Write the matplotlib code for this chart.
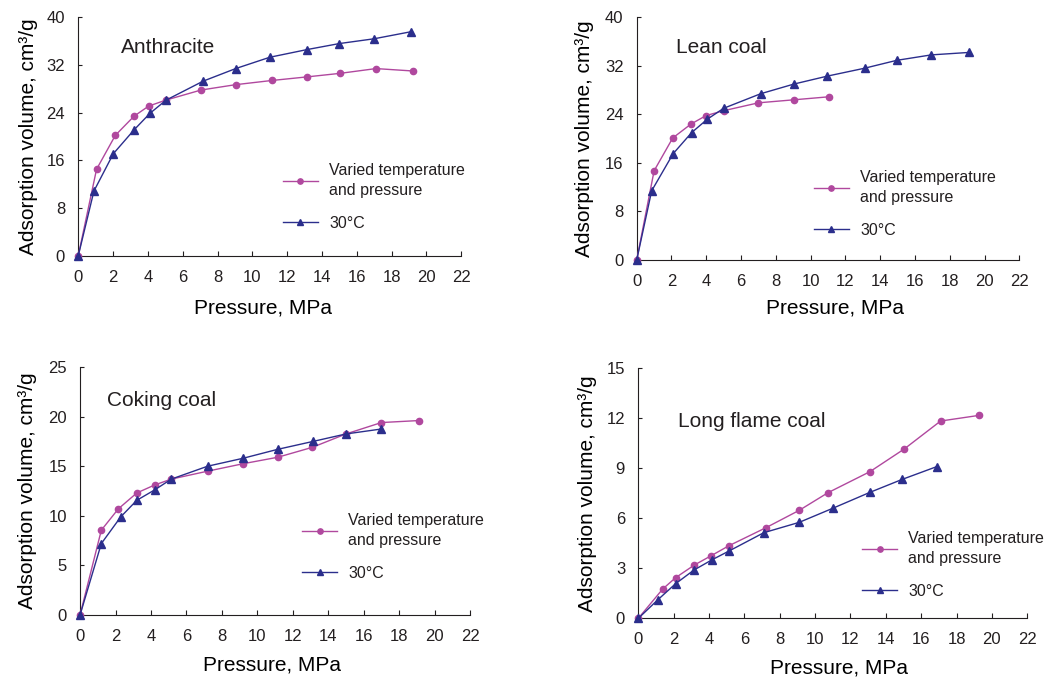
import matplotlib
matplotlib.use("Agg")
import matplotlib.pyplot as plt

plt.rcParams['font.family'] = ['Liberation Sans', 'DejaVu Sans']
plt.rcParams['text.color'] = '#231f20'

MAGENTA = '#b0489e'
BLUE = '#2b2e8c'

titles = ["Anthracite", "Lean coal", "Coking coal", "Long flame coal"]
varied_label = "Varied temperature\nand pressure"
iso_label = "30°C"

# Anthracite
p_var_anth = [0, 1.05, 2.13, 3.2, 4.04, 5.02, 7.05, 9.04, 11.11, 13.12, 15.04, 17.1, 19.2]
v_var_anth = [0, 14.5, 20.2, 23.4, 25.1, 26.1, 27.8, 28.7, 29.4, 30.0, 30.6, 31.4, 31.0]
p_iso_anth = [0, 0.9, 2.01, 3.2, 4.12, 5.04, 7.18, 9.04, 11.0, 13.16, 15.0, 16.99, 19.14]
v_iso_anth = [0, 10.85, 17.1, 21.1, 23.9, 26.1, 29.3, 31.4, 33.3, 34.6, 35.6, 36.4, 37.6]

# Lean coal
p_var_lean = [0, 1.0, 2.07, 3.12, 3.99, 5.0, 7.0, 9.05, 11.08]
v_var_lean = [0, 14.7, 20.1, 22.4, 23.8, 24.6, 25.9, 26.4, 26.9]
p_iso_lean = [0, 0.86, 2.09, 3.16, 4.06, 5.0, 7.13, 9.05, 10.96, 13.1, 14.95, 16.94, 19.09]
v_iso_lean = [0, 11.4, 17.5, 21.0, 23.2, 25.0, 27.4, 29.0, 30.3, 31.6, 32.9, 33.8, 34.2]

# Coking coal
p_var_cok = [0, 1.2, 2.16, 3.2, 4.2, 5.15, 7.2, 9.2, 11.15, 13.1, 15.0, 17.0, 19.1]
v_var_cok = [0, 8.55, 10.7, 12.3, 13.1, 13.7, 14.5, 15.25, 15.9, 16.9, 18.25, 19.4, 19.6]
p_iso_cok = [0, 1.2, 2.3, 3.2, 4.2, 5.15, 7.2, 9.2, 11.15, 13.15, 15.0, 17.0]
v_iso_cok = [0, 7.2, 9.9, 11.56, 12.6, 13.7, 15.0, 15.8, 16.7, 17.5, 18.25, 18.75]

# Long flame coal
p_var_long = [0, 1.38, 2.11, 3.17, 4.09, 5.13, 7.22, 9.1, 10.73, 13.1, 15.04, 17.1, 19.28]
v_var_long = [0, 1.76, 2.44, 3.2, 3.74, 4.36, 5.44, 6.48, 7.54, 8.8, 10.16, 11.84, 12.18]
p_iso_long = [0, 1.11, 2.11, 3.15, 4.18, 5.13, 7.1, 9.1, 10.99, 13.1, 14.93, 16.87]
v_iso_long = [0, 1.12, 2.08, 2.9, 3.52, 4.04, 5.14, 5.76, 6.6, 7.56, 8.34, 9.1]

y_limits = [40, 40, 25, 15]
y_steps = [8, 8, 5, 3]

series = [
    (p_var_anth, v_var_anth, p_iso_anth, v_iso_anth),
    (p_var_lean, v_var_lean, p_iso_lean, v_iso_lean),
    (p_var_cok, v_var_cok, p_iso_cok, v_iso_cok),
    (p_var_long, v_var_long, p_iso_long, v_iso_long),
]

# layout, tuned by eye against the original
boxes = [
    [0.0749, 0.6223, 0.3665, 0.3521],
    [0.6093, 0.6160, 0.3661, 0.3585],
    [0.0766, 0.0916, 0.3732, 0.3663],
    [0.6108, 0.0866, 0.3722, 0.3693],
]
title_pos = [(0.111, 0.872), (0.102, 0.875), (0.07, 0.863), (0.103, 0.787)]
legend_pos = [(0.534, 0.39), (0.463, 0.372), (0.569, 0.412), (0.575, 0.351)]
ylabel_x = [-0.106, -0.112, -0.11, -0.106]
xlabel_pos = [(0.483, -0.18), (0.518, -0.159), (0.492, -0.164), (0.515, -0.16)]

fig = plt.figure(figsize=(10.45, 6.77), dpi=100)

for i in range(4):
    ax = fig.add_axes(boxes[i])
    pv, vv, pi, vi = series[i]
    ax.plot(pv, vv, color=MAGENTA, lw=1.0, marker='o', ms=4.5,
            label=varied_label, clip_on=False, zorder=3)
    ax.plot(pi, vi, color=BLUE, lw=1.0, marker='^', ms=5.5,
            label=iso_label, clip_on=False, zorder=4)

    ax.set_xlim(0, 22)
    ax.set_ylim(0, y_limits[i])
    ax.set_xticks(range(0, 23, 2))
    ax.set_yticks(range(0, y_limits[i] + 1, y_steps[i]))
    for s in ['top', 'right']:
        ax.spines[s].set_visible(False)
    for s in ['left', 'bottom']:
        ax.spines[s].set_linewidth(0.8)
        ax.spines[s].set_color('#231f20')
    ax.tick_params(axis='x', direction='in', length=3.5, width=0.8,
                   pad=10, labelsize=12, colors='#231f20')
    ax.tick_params(axis='y', direction='in', length=3, width=0.8,
                   pad=9.5, labelsize=12, colors='#231f20')

    ax.text(title_pos[i][0], title_pos[i][1], titles[i], transform=ax.transAxes,
            fontsize=15, va='center', ha='left')

    ax.set_xlabel("Pressure, MPa", fontsize=15)
    ax.xaxis.set_label_coords(*xlabel_pos[i])
    ax.set_ylabel("Adsorption volume, cm³/g", fontsize=15)
    ax.yaxis.set_label_coords(ylabel_x[i], 0.5)

    leg = ax.legend(loc='upper left', bbox_to_anchor=legend_pos[i], frameon=False,
                    fontsize=11.5, borderpad=0, borderaxespad=0, handlelength=2.2,
                    handletextpad=0.7, labelspacing=1.1, markerscale=0.85)
    for t in leg.get_texts():
        t.set_linespacing(1.45)

fig.savefig("out.png", dpi=100)
